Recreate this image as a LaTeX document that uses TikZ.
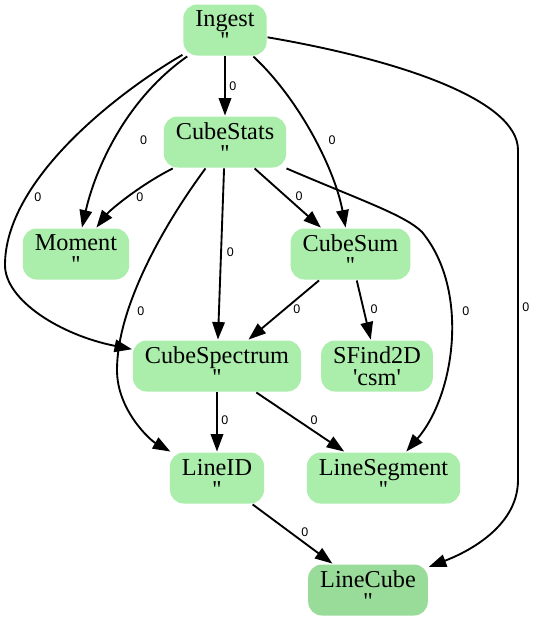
\documentclass[tikz,border=0pt]{standalone}
\usepackage{fontspec}
\setmainfont{Liberation Serif}
\setsansfont{Liberation Sans}
\usetikzlibrary{positioning,arrows.meta}

\definecolor{lgreen}{HTML}{ABEDAB}
\definecolor{dgreen}{HTML}{99DB99}
\newcommand{\noalias}{\textquotesingle\textquotesingle}

\tikzstyle{task} = [rectangle, rounded corners=5.5pt, minimum height=20.4pt, inner xsep=4.8pt, inner ysep=0pt, align=center, fill=lgreen, draw=none, font={\fontsize{9.7}{8.8}\selectfont\lineskiplimit=-20pt}]
\tikzstyle{lab} = [font=\sffamily\fontsize{5}{5}\selectfont, inner sep=0pt]

\begin{document}
\begin{tikzpicture}[x=0.4pt,y=-0.4pt,node distance=44.8pt,line width=0.75pt,>={Triangle[length=7pt,width=5pt]}]
\useasboundingbox (0,0) rectangle (537,621);

\node[task] (I) at (225,30) {Ingest\\\noalias};
\node[task] (CS) [below of=I] {CubeStats\\\noalias};
\node[task] (M) [below of=CS, xshift=-59.6pt] {Moment\\\noalias};
\node[task] (CSum) [below of=CS, xshift=50.2pt] {CubeSum\\\noalias};
\node[task] (CSp) [below of=CSum, xshift=-53.4pt] {CubeSpectrum\\\noalias};
\node[task] (SF) [below of=CSum, xshift=10.6pt] {SFind2D\\\textquotesingle csm\textquotesingle};
\node[task] (LID) [below of=CSp] {LineID\\\noalias};
\node[task] (LS) [below of=CSp, xshift=66.6pt] {LineSegment\\\noalias};
\node[task, fill=dgreen] (LC) [below of=LID, xshift=60.4pt] {LineCube\\\noalias};

\path[->, every node/.style={lab}]
    (I) edge node [pos=.5, right=1.4pt] {0} (CS)
    (CS) edge node [pos=.475, right=3.4pt] {0} (CSum)
    (CS) edge node [pos=.49, right=2pt] {0} (CSp)
    (CSum) edge node [pos=.49, right=3.2pt] {0} (CSp)
    (CSum) edge node [pos=.49, right=2.4pt] {0} (SF)
    (CSp) edge node [pos=.475, right=1.4pt] {0} (LID)
    (CSp) edge node [pos=.475, right=4.6pt] {0} (LS)
    (LID) edge node [pos=.475, right=4pt] {0} (LC)
    ;

% curved ones
\draw[->] (I) .. controls (125,100) and (95,170) .. (M) node[lab, pos=.52, right=10pt] {0};
\draw[->] (I) .. controls (117,93) and (5,180) .. (5,265) node[lab, pos=.73, right=2.8pt] {0}
    .. controls (5,300) and (60,335) .. (CSp);
\draw[->] (I) .. controls (300,100) and (335,170) .. (CSum) node[lab, pos=.52, right=5.1pt] {0};
\draw[->] (I) .. controls (400,60) and (518,100) .. (518,150) -- (518,480) node[lab, pos=.476, right=1.4pt] {0}
    .. controls (518,530) and (460,555) .. (LC);
\draw[->] (CS) .. controls (140,185) and (110,210) .. (M) node[lab, pos=.5, right=3.2pt] {0};
\draw[->] (CS) .. controls (160,230) and (117,310) .. (117,370) node[lab, pos=.7, right=3.6pt] {0}
    .. controls (117,410) and (150,440) .. (LID);
\draw[->] (CS) .. controls (360,200) and (405,215) .. (422,232)
    .. controls (470,290) and (455,395) .. (LS) node[lab, pos=.37, right=4.2pt] {0};

\end{tikzpicture}
\end{document}
